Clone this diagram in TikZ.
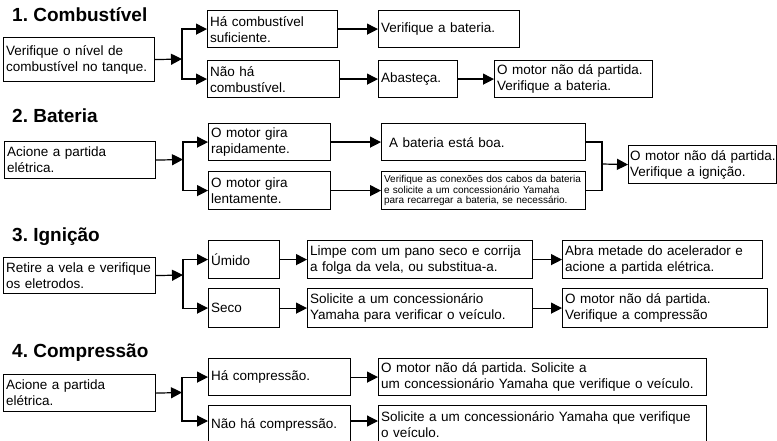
\documentclass[tikz,border=0pt]{standalone}
\usepackage{fontspec}
\setmainfont{Liberation Sans}
\usetikzlibrary{arrows.meta}
\frenchspacing

\begin{document}
\begin{tikzpicture}[x=1pt, y=-1pt,
  box/.style 2 args={draw, line width=1.2pt, anchor=north west, inner xsep=2.5pt, inner ysep=2pt,
    minimum width=#1, text width=#1-5pt, minimum height=#2, align=left,
    font=\fontsize{13.5}{16}\selectfont},
  arr/.style={-{Triangle[length=11pt,width=11pt]}, line width=1.2pt},
  line/.style={line width=1.2pt},
  heading/.style={anchor=base west, inner sep=0pt, font=\fontsize{19}{22}\selectfont\bfseries}]
\clip (0,0) rectangle (777,441);

% 1. Combustivel
\node[heading] (t1) at (12,22) {1. Combustível};
\node[box={151}{44}] (c0) at (3,37) {Verifique o nível de\\combustível no tanque.};
\node[box={130}{37}] (c1) at (207,10) {Há combustível\\suficiente.};
\node[box={132}{37}] (c2) at (207,60) {Não há\\combustível.};
\node[box={141}{37}] (c3) at (378,10) {Verifique a bateria.};
\node[box={79}{37}] (c4) at (378,60) {Abasteça.};
\node[box={158}{37}] (c5) at (494,60) {O motor não dá partida.\\Verifique a bateria.};
\coordinate (s1) at (182,59);
\draw[arr] (c0.east) -- (s1);
\draw[arr] (s1) |- (c1.west);
\draw[arr] (s1) |- (c2.west);
\draw[arr] (c1) -- (c3);
\draw[arr] (c2) -- (c4);
\draw[arr] (c4) -- (c5);

% 2. Bateria
\node[heading] (t2) at (12,123) {2. Bateria};
\node[box={151}{37}] (b0) at (4,141) {Acione a partida\\elétrica.};
\node[box={122}{37}] (b1) at (208,123) {O motor gira\\rapidamente.};
\node[box={122}{38}] (b2) at (208,171) {O motor gira\\lentamente.};
\node[box={204}{37}] (b3) at (381,123) {\hspace{5pt}A bateria está boa.};
\node[box={204}{38}, font=\fontsize{10}{10.5}\selectfont] (b4) at (381,171)
  {Verifique as conexões dos cabos da bateria\\e solicite a um concessionário Yamaha\\para recarregar a bateria, se necessário.};
\node[box={148}{38}, inner xsep=1.5pt, text width=145pt] (b5) at (628,145) {\mbox{O motor não dá partida.}\\Verifique a ignição.};
\coordinate (s2) at (183,159.5);
\coordinate (j2) at (602,164);
\draw[arr] (b0.east) -- (s2);
\draw[arr] (s2) |- (b1.west);
\draw[arr] (s2) |- (b2.west);
\draw[arr] (b1) -- (b3);
\draw[arr] (b2) -- (b4);
\draw[line] (b3.east) -| (j2);
\draw[line] (b4.east) -| (j2);
\draw[arr] (j2) -- (b5.west);

% 3. Ignicao
\node[heading] (t3) at (12,241) {3. Ignição};
\node[box={152}{36}] (i0) at (3,257) {Retire a vela e verifique\\os eletrodos.};
\node[box={71}{38}] (i1) at (208,240) {Úmido};
\node[box={71}{39}] (i2) at (208,288) {Seco};
\node[box={225}{38}] (i3) at (307,240) {Limpe com um pano seco e corrija\\a folga da vela, ou substitua-a.};
\node[box={225}{39}] (i4) at (307,288) {Solicite a um concessionário\\Yamaha para verificar o veículo.};
\node[box={200}{38}] (i5) at (562,240) {Abra metade do acelerador e\\acione a partida elétrica.};
\node[box={205}{39}] (i6) at (562,288) {O motor não dá partida.\\Verifique a compressão};
\coordinate (s3) at (183,275);
\draw[arr] (i0.east) -- (s3);
\draw[arr] (s3) |- (i1.west);
\draw[arr] (s3) |- (i2.west);
\draw[arr] (i1) -- (i3);
\draw[arr] (i2) -- (i4);
\draw[arr] (i3) -- (i5);
\draw[arr] (i4) -- (i6);

% 4. Compressao
\node[heading] (t4) at (12,357) {4. Compressão};
\node[box={152}{37}] (k0) at (3,374) {Acione a partida\\elétrica.};
\node[box={142}{37}] (k1) at (208,358) {Há compressão.};
\node[box={142}{38}] (k2) at (208,405) {Não há compressão.};
\node[box={328}{37}] (k3) at (378,358) {O motor não dá partida. Solicite a\\um concessionário Yamaha que verifique o veículo.};
\node[box={328}{38}] (k4) at (378,405) {Solicite a um concessionário Yamaha que verifique\\o veículo.};
\coordinate (s4) at (182,392.5);
\draw[arr] (k0.east) -- (s4);
\draw[arr] (s4) |- (k1.west);
\draw[arr] (s4) |- ([yshift=-16pt]k2.north west);
\draw[arr] (k1) -- (k3);
\draw[arr] ([yshift=-16pt]k2.north east) -- ([yshift=-16pt]k4.north west);
\end{tikzpicture}
\end{document}
